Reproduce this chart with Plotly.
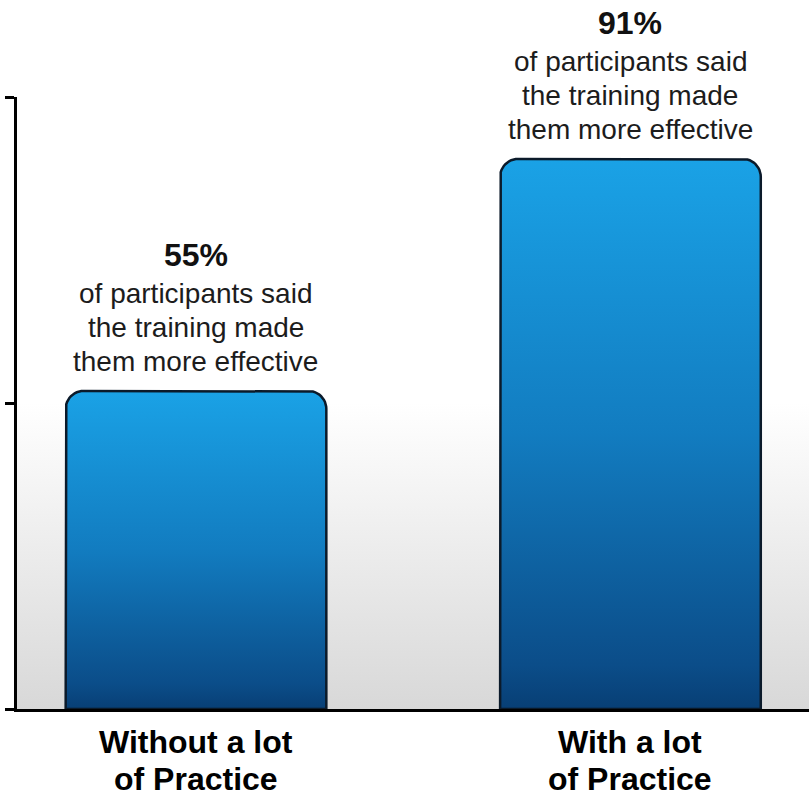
import plotly.graph_objects as go
import math

# ---- data ----
categories = ["Without a lot of Practice", "With a lot of Practice"]
category_lines = [["Without a lot", "of Practice"], ["With a lot", "of Practice"]]
values = [55, 91]
value_labels = ["55%", "91%"]
body_lines = ["of participants said", "the training made", "them more effective"]

# ---- layout geometry ----
W, H = 809, 796
ML, MR, MT, MB = 17, 0, 97, 87
plot_w = W - ML - MR
plot_h = H - MT - MB
x_range = [-0.412, 1.411]
y_range = [5.65, 100.6]
bar_width = 0.6
corner_px = 18
FONT = "Liberation Sans, Arial, Helvetica, sans-serif"

px_x = plot_w / (x_range[1] - x_range[0])
px_y = plot_h / (y_range[1] - y_range[0])
rx = corner_px / px_x
ry = corner_px / px_y

fig = go.Figure()

# background gradient (white -> light gray toward baseline)
y_mid = (y_range[0] + y_range[1]) / 2
fig.add_trace(go.Scatter(
    x=[x_range[0], x_range[1], x_range[1], x_range[0], x_range[0]],
    y=[y_range[0], y_range[0], y_mid, y_mid, y_range[0]],
    mode="none", fill="toself",
    fillgradient=dict(type="vertical",
                      colorscale=[[0, "#d8d8d8"], [1, "#ffffff"]]),
    hoverinfo="skip", showlegend=False,
))

# bars with rounded tops and vertical gradient
for i, v in enumerate(values):
    x0 = i - bar_width / 2
    x1 = i + bar_width / 2
    xs, ys = [x0], [y_range[0]]
    for k in range(0, 13):
        a = math.pi - (math.pi / 2) * k / 12
        xs.append(x0 + rx + rx * math.cos(a))
        ys.append(v - ry + ry * math.sin(a))
    for k in range(0, 13):
        a = math.pi / 2 - (math.pi / 2) * k / 12
        xs.append(x1 - rx + rx * math.cos(a))
        ys.append(v - ry + ry * math.sin(a))
    xs += [x1, x0]
    ys += [y_range[0], y_range[0]]
    fig.add_trace(go.Scatter(
        x=xs, y=ys, mode="lines", fill="toself",
        line=dict(color="#0b1a2a", width=2.5),
        fillgradient=dict(type="vertical",
                          colorscale=[[0, "#083f75"], [0.08, "#0b4d89"],
                                      [0.5, "#127cc0"], [1, "#1aa2e6"]]),
        hoverinfo="skip", showlegend=False, name=categories[i],
    ))

annotations = []
for i, v in enumerate(values):
    annotations.append(dict(
        x=i, y=v, xref="x", yref="y", text="<b>%s</b>" % value_labels[i],
        showarrow=False, yanchor="middle", yshift=136,
        font=dict(family=FONT, size=32, color="#111111"),
    ))
    for j, line in enumerate(body_lines):
        annotations.append(dict(
            x=i, y=v, xref="x", yref="y", text=line,
            showarrow=False, yanchor="middle", yshift=97 - 34 * j,
            font=dict(family=FONT, size=28, color="#1c1c1c"),
        ))
    for j, line in enumerate(category_lines[i]):
        annotations.append(dict(
            x=i, y=0, xref="x", yref="paper", text="<b>%s</b>" % line,
            showarrow=False, yanchor="middle", yshift=-33 - 37 * j,
            font=dict(family=FONT, size=32, color="#000000"),
        ))

fig.update_layout(
    width=W, height=H,
    margin=dict(l=ML, r=MR, t=MT, b=MB, pad=0),
    paper_bgcolor="white", plot_bgcolor="white",
    showlegend=False,
    annotations=annotations,
    xaxis=dict(range=x_range, showline=True, linecolor="#000000", linewidth=3,
               showticklabels=False, ticks="", showgrid=False, zeroline=False,
               fixedrange=True),
    yaxis=dict(range=y_range, showline=True, linecolor="#000000", linewidth=3,
               ticks="outside", ticklen=9, tickwidth=3, tickcolor="#000000",
               tickvals=[y_range[0], y_mid, y_range[1]],
               showticklabels=False, showgrid=False, zeroline=False,
               fixedrange=True),
)

fig.write_html("out.html")
